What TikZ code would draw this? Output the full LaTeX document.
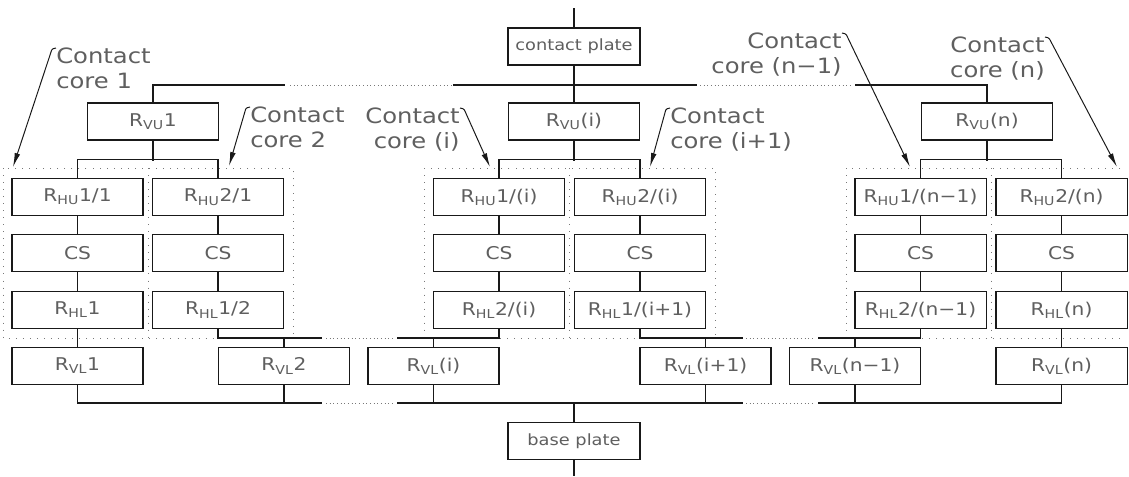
\documentclass[tikz,border=0pt]{standalone}
\usepackage{fontspec}
\setmainfont{DejaVu Sans}[FakeStretch=1.15]
\usetikzlibrary{arrows.meta}
\definecolor{CcInk}{RGB}{25,25,25}
\definecolor{CcText}{RGB}{95,95,95}
\definecolor{CcDots}{RGB}{120,120,120}
\tikzset{
  cc/box/.style={
    draw=CcInk,
    line width=0.9pt,
    fill=white,
    text=CcText,
    inner sep=0pt,
    minimum width=3.28cm,
    minimum height=0.93cm,
    font=\fontsize{12.5}{15}\selectfont
  },
  cc/plate/.style={cc/box, minimum width=3.3cm, font=\fontsize{11}{13}\selectfont},
  cc/wire/.style={draw=CcInk, line width=0.9pt},
  cc/dots/.style={draw=CcDots, line width=0.6pt, dotted},
  cc/frame/.style={draw=CcDots, line width=0.6pt, dash pattern=on 0.6pt off 4.4pt},
  cc/label/.style={text=CcText, inner sep=0pt, font=\fontsize{15}{17.8}\selectfont},
  cc/arrow/.style={-{Latex[length=10pt,width=4pt]}, draw=CcInk, line width=0.7pt, rounded corners=0.8pt}
}

\begin{document}
\begin{tikzpicture}[x=0.025cm,y=-0.025cm]
  \useasboundingbox (0,0) rectangle (1129,476);
  % dotted core frames
  \draw[cc/frame] (3,168) rectangle (293,338);
  \draw[cc/frame] (148,168) -- (148,338);
  \draw[cc/frame] (424,168) rectangle (715,338);
  \draw[cc/frame] (569,168) -- (569,338);
  \draw[cc/frame] (1120,168) -| (846,338) -- (1120,338);
  \draw[cc/frame] (991,168) -- (991,338);

  \coordinate (ctop) at (574,8);
  \coordinate (cbot) at (574,476);
  \node[cc/plate] (cp) at (574,46.5) {contact plate};
  \node[cc/plate] (bp) at (574,441) {base plate};
  \node[cc/box] (vu1) at (153,121.5) {R\textsubscript{VU}1};
  \node[cc/box] (vui) at (574,121.5) {R\textsubscript{VU}(i)};
  \node[cc/box] (vun) at (987,121.5) {R\textsubscript{VU}(n)};

  \node[cc/box] (hu11) at (77.5,197) {R\textsubscript{HU}1/1};
  \node[cc/box] (hu21) at (218,197) {R\textsubscript{HU}2/1};
  \node[cc/box] (cs1) at (77.5,253) {CS};
  \node[cc/box] (cs2) at (218,253) {CS};
  \node[cc/box] (hl1) at (77.5,310) {R\textsubscript{HL}1};
  \node[cc/box] (hl12) at (218,310) {R\textsubscript{HL}1/2};
  \node[cc/box] (vl1) at (77.5,366) {R\textsubscript{VL}1};
  \node[cc/box] (vl2) at (284,366) {R\textsubscript{VL}2};

  \node[cc/box] (hu1i) at (499,197) {R\textsubscript{HU}1/(i)};
  \node[cc/box] (hu2i) at (640,197) {R\textsubscript{HU}2/(i)};
  \node[cc/box] (cs3) at (499,253) {CS};
  \node[cc/box] (cs4) at (640,253) {CS};
  \node[cc/box] (hl2i) at (499,310) {R\textsubscript{HL}2/(i)};
  \node[cc/box] (hl1i) at (640,310) {R\textsubscript{HL}1/(i+1)};
  \node[cc/box] (vli) at (433.5,366) {R\textsubscript{VL}(i)};
  \node[cc/box] (vlj) at (705.5,366) {R\textsubscript{VL}(i+1)};

  \node[cc/box] (hu1n) at (920.5,197) {R\textsubscript{HU}1/(n−1)};
  \node[cc/box] (hu2n) at (1061.5,197) {R\textsubscript{HU}2/(n)};
  \node[cc/box] (cs5) at (920.5,253) {CS};
  \node[cc/box] (cs6) at (1061.5,253) {CS};
  \node[cc/box] (hl2n) at (920.5,310) {R\textsubscript{HL}2/(n−1)};
  \node[cc/box] (hln) at (1061.5,310) {R\textsubscript{HL}(n)};
  \node[cc/box] (vlm) at (855,366) {R\textsubscript{VL}(n−1)};
  \node[cc/box] (vln) at (1061.5,366) {R\textsubscript{VL}(n)};

  % upper bus
  \draw[cc/wire] (ctop) -- (cp);
  \draw[cc/wire] (cp) -- (vui);
  \draw[cc/wire] (vu1.north) |- (285,85);
  \draw[cc/wire] (453,85) -- (697,85);
  \draw[cc/wire] (855,85) -| (vun.north);
  \draw[cc/dots] (290,85) -- (451,85);
  \draw[cc/dots] (700,85) -- (852,85);
  \draw[cc/wire] (hu11.north) -- ++(0,-18.5) -| (hu21.north);
  \draw[cc/wire] (vu1.south) -- ++(0,20);
  \draw[cc/wire] (hu1i.north) -- ++(0,-18.5) -| (hu2i.north);
  \draw[cc/wire] (vui.south) -- ++(0,20);
  \draw[cc/wire] (hu1n.north) -- ++(0,-18.5) -| (hu2n.north);
  \draw[cc/wire] (vun.south) -- ++(0,20);

  % columns and lower buses
  \draw[cc/wire] (hu11) -- (cs1) -- (hl1) -- (vl1);
  \draw[cc/wire] (hu21) -- (cs2) -- (hl12);
  \draw[cc/wire] (hl12.south) |- (322,338);
  \draw[cc/wire] (vl2.north) -- ++(0,-9.5);
  \draw[cc/dots] (326,338) -- (394,338);
  \draw[cc/wire] (vl1.south) |- (322,403);
  \draw[cc/wire] (vl2.south) -- ++(0,18.5);
  \draw[cc/dots] (326,403) -- (394,403);

  \draw[cc/wire] (hu1i) -- (cs3) -- (hl2i);
  \draw[cc/wire] (hu2i) -- (cs4) -- (hl1i);
  \draw[cc/wire] (397,338) -| (hl2i.south);
  \draw[cc/wire] (hl1i.south) |- (743,338);
  \draw[cc/wire] (vli.north) -- ++(0,-9.5);
  \draw[cc/wire] (vlj.north) -- ++(0,-9.5);
  \draw[cc/dots] (746,338) -- (815,338);
  \draw[cc/wire] (397,403) -- (743,403);
  \draw[cc/wire] (vli.south) -- ++(0,18.5);
  \draw[cc/wire] (vlj.south) -- ++(0,18.5);
  \draw[cc/wire] (bp.north) -- ++(0,-18.5);
  \draw[cc/wire] (bp) -- (cbot);
  \draw[cc/dots] (746,403) -- (815,403);

  \draw[cc/wire] (hu1n) -- (cs5) -- (hl2n);
  \draw[cc/wire] (hu2n) -- (cs6) -- (hln) -- (vln);
  \draw[cc/wire] (818,338) -| (hl2n.south);
  \draw[cc/wire] (vlm.north) -- ++(0,-9.5);
  \draw[cc/wire] (818,403) -| (vln.south);
  \draw[cc/wire] (vlm.south) -- ++(0,18.5);

  % core labels
  \node[cc/label, anchor=north west, align=left] (lc1) at (56,48) {Contact\\core 1};
  \node[cc/label, anchor=north west, align=left] (lc2) at (250,107) {Contact\\core 2};
  \node[cc/label, anchor=north east, align=right] (lci) at (460,108) {Contact\\core (i)};
  \node[cc/label, anchor=north west, align=left] (lcj) at (670,108) {Contact\\core (i+1)};
  \node[cc/label, anchor=north east, align=right] (lcm) at (842,33) {Contact\\core (n−1)};
  \node[cc/label, anchor=north east, align=right] (lcn) at (1045,37) {Contact\\core (n)};
  \coordinate (t1) at (13,167);
  \coordinate (t2) at (229,166);
  \coordinate (ti) at (490,167);
  \coordinate (tj) at (650,167);
  \coordinate (tm) at (910,167);
  \coordinate (tn) at (1117,167);
  \draw[cc/arrow] (lc1.north west) -- ++(-4,1) -- (t1);
  \draw[cc/arrow] (lc2.north west) -- ++(-4,1) -- (t2);
  \draw[cc/arrow] (lci.north east) -- ++(4,1) -- (ti);
  \draw[cc/arrow] (lcj.north west) -- ++(-4,1) -- (tj);
  \draw[cc/arrow] (lcm.north east) -- ++(4,1) -- (tm);
  \draw[cc/arrow] (lcn.north east) -- ++(4,1) -- (tn);
\end{tikzpicture}
\end{document}
